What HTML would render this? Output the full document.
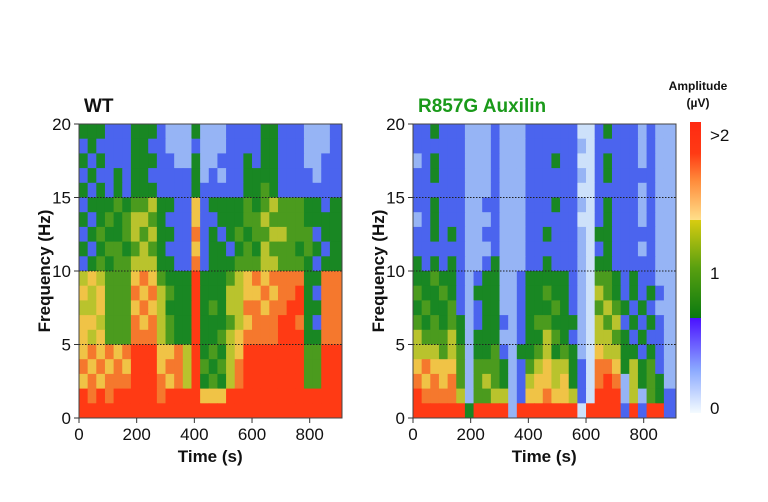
<!DOCTYPE html>
<html><head><meta charset="utf-8"><style>
html,body{margin:0;padding:0;background:#fff;}
svg{display:block;font-family:"Liberation Sans",sans-serif;}
</style></head><body>
<svg id="chart" width="768" height="502" viewBox="0 0 768 502">
<defs>
<linearGradient id="cbg" x1="0" y1="0" x2="0" y2="1">
<stop offset="0" stop-color="#ff2a12"/>
<stop offset="0.107" stop-color="#ff3a14"/>
<stop offset="0.2" stop-color="#ff8a3a"/>
<stop offset="0.337" stop-color="#ffe08a"/>
<stop offset="0.337" stop-color="#d8cc10"/>
<stop offset="0.5" stop-color="#5aa010"/>
<stop offset="0.673" stop-color="#0a7a10"/>
<stop offset="0.673" stop-color="#4a10ff"/>
<stop offset="0.85" stop-color="#8aa8ff"/>
<stop offset="1" stop-color="#f4fbff"/>
</linearGradient>
</defs>
</svg>
<script>
// Data: 30 time bins of 30 s (0..900 s), 20 frequency rows (1 Hz each), row 0 = 19-20 Hz
const timeBins = [0,30,60,90,120,150,180,210,240,270,300,330,360,390,420,450,480,510,540,570,600,630,660,690,720,750,780,810,840,870];
const xTicks = [0,200,400,600,800];
const yTicks = [0,5,10,15,20];
const levelAmplitude = [0,0.25,0.45,0.65,0.85,1.0,1.2,1.5,1.8,2.2];
const wtRows = [
"444333444322242223333443332223",
"343333443322232223333443332223",
"434333444332242233343443332233",
"343343443333342323344443333233",
"434343444333343333344543333333",
"344454556443373444454565554434",
"434545665433373344455655554444",
"345445656443383434545566555344",
"434554565433373443454655545434",
"345455666443383444555665554344",
"676555787544494445678788884488",
"767555878654494446677878894388",
"667555787644494546688788994488",
"776555878654494445678889984388",
"767555888654494456788889994488",
"787878999778694546799999995599",
"878787999788695456899999995599",
"787888999878694546899999995599",
"989899999899997779999999999999",
"999999999999999999999999999999"];
const mutRows = [
"334333222322233333311343332322",
"333333222322233333321333332322",
"234333222322233343311343332322",
"334333222322233333321343333322",
"333333222322233333311333332322",
"334333223322233343321343332322",
"234333222322233333311343332322",
"334343223322233433321443333322",
"333333222322233333321343332322",
"434343223422233433321443333322",
"445443234422344444321554343322",
"544543244422344544321654343432",
"454453234422344454321565434322",
"545454234432345544421656343432",
"655564244422344654321665434332",
"666565244532445645421766443432",
"787775255542356766431887464532",
"878785256542367767431898264542",
"988886255662377877631999262543",
"999999499992999999919999393993"];

const NS='http://www.w3.org/2000/svg';
const svg=document.getElementById('chart');
function mk(tag,attrs,parent){const e=document.createElementNS(NS,tag);for(const k in attrs)e.setAttribute(k,attrs[k]);(parent||svg).appendChild(e);return e;}
function color(a){
  const stops=[[0,[244,250,255]],[0.25,[205,225,250]],[0.45,[150,180,245]],[0.65,[75,100,238]],[0.85,[25,135,35]],[1.0,[75,155,30]],[1.2,[185,195,45]],[1.5,[240,195,70]],[1.8,[245,120,45]],[2.2,[255,58,20]]];
  for(let i=1;i<stops.length;i++){if(a<=stops[i][0]){const [a0,c0]=stops[i-1],[a1,c1]=stops[i];const t=(a-a0)/(a1-a0);return 'rgb('+c0.map((v,j)=>Math.round(v+(c1[j]-v)*t)).join(',')+')';}}
  return 'rgb(255,58,20)';
}
function panel(p){
  const g=mk('g',{});
  
  
  const tMax=912;
  const xs=t=>p.x0+(t/tMax)*(p.x1-p.x0);
  const ys=f=>p.y1-(f/20)*(p.y1-p.y0);
  const hm=mk('g',{},g);
  
  
  p.rows.forEach((row,ri)=>{
    const fTop=20-ri, fBot=19-ri;
    for(let ci=0;ci<timeBins.length;ci++){
      const lv=+row[ci];
      const t0=timeBins[ci];
      const t1=ci+1<timeBins.length?timeBins[ci+1]:tMax;
      const r=mk('rect',{x:xs(t0),y:ys(fTop),width:xs(t1)-xs(t0)+0.5,height:ys(fBot)-ys(fTop)+0.5,fill:color(levelAmplitude[lv])},hm);
      
      
    }
  });
  [5,10,15].forEach(f=>{
    const l=mk('line',{x1:p.x0,x2:p.x1,y1:ys(f),y2:ys(f),stroke:'#222','stroke-width':1,'stroke-dasharray':'1.5,1.5'},g);
    
    
  });
  const fr=mk('rect',{x:p.x0,y:p.y0,width:p.x1-p.x0,height:p.y1-p.y0,fill:'none',stroke:'#444','stroke-width':1},g);
  
  
  yTicks.forEach(v=>{
    mk('line',{x1:p.x0-5,x2:p.x0,y1:ys(v),y2:ys(v),stroke:'#333'},g);
    const t=mk('text',{x:p.x0-8,y:ys(v)+6,'text-anchor':'end','font-size':17,fill:'#111'},g);
    t.textContent=v;
    
    
  });
  xTicks.forEach(v=>{
    mk('line',{x1:xs(v),x2:xs(v),y1:p.y1,y2:p.y1+5,stroke:'#333'},g);
    const t=mk('text',{x:xs(v),y:p.y1+22,'text-anchor':'middle','font-size':17,fill:'#111'},g);
    t.textContent=v;
    
    
  });
  const xt=mk('text',{x:xs(455),y:p.y1+44,'text-anchor':'middle','font-size':17,'font-weight':'bold',fill:'#111'},g);
  xt.textContent='Time (s)';
  
  
  const yt=mk('text',{x:0,y:0,'text-anchor':'middle','font-size':17,'font-weight':'bold',fill:'#111',transform:'translate('+(p.x0-29)+','+ys(10)+') rotate(-90)'},g);
  yt.textContent='Frequency (Hz)';
  
  
  const tt=mk('text',{x:p.x0+5,y:p.y0-12,'font-size':19,'font-weight':'bold',fill:p.titleColor},g);
  tt.textContent=p.title;
  
  
}
panel({name:'wt-spectrogram',title:'WT',titleColor:'#111',rows:wtRows,x0:79,x1:342,y0:124,y1:418});
panel({name:'r857g-spectrogram',title:'R857G Auxilin',titleColor:'#1a9a1a',rows:mutRows,x0:413,x1:676,y0:124,y1:418});

const cb=mk('g',{});


const cbr=mk('rect',{x:690,y:122,width:11,height:291,fill:'url(#cbg)'},cb);


[['>2',141],['1',279],['0',414]].forEach(([s,y])=>{
  const t=mk('text',{x:710,y:y,'font-size':17,fill:'#111'},cb);
  t.textContent=s;
  
  
});
const ct1=mk('text',{x:698,y:90,'text-anchor':'middle','font-size':12,'font-weight':'bold',fill:'#111'},cb);
ct1.textContent='Amplitude';


const ct2=mk('text',{x:698,y:107,'text-anchor':'middle','font-size':12,'font-weight':'bold',fill:'#111'},cb);
ct2.textContent='(µV)';


</script>
</body></html>
